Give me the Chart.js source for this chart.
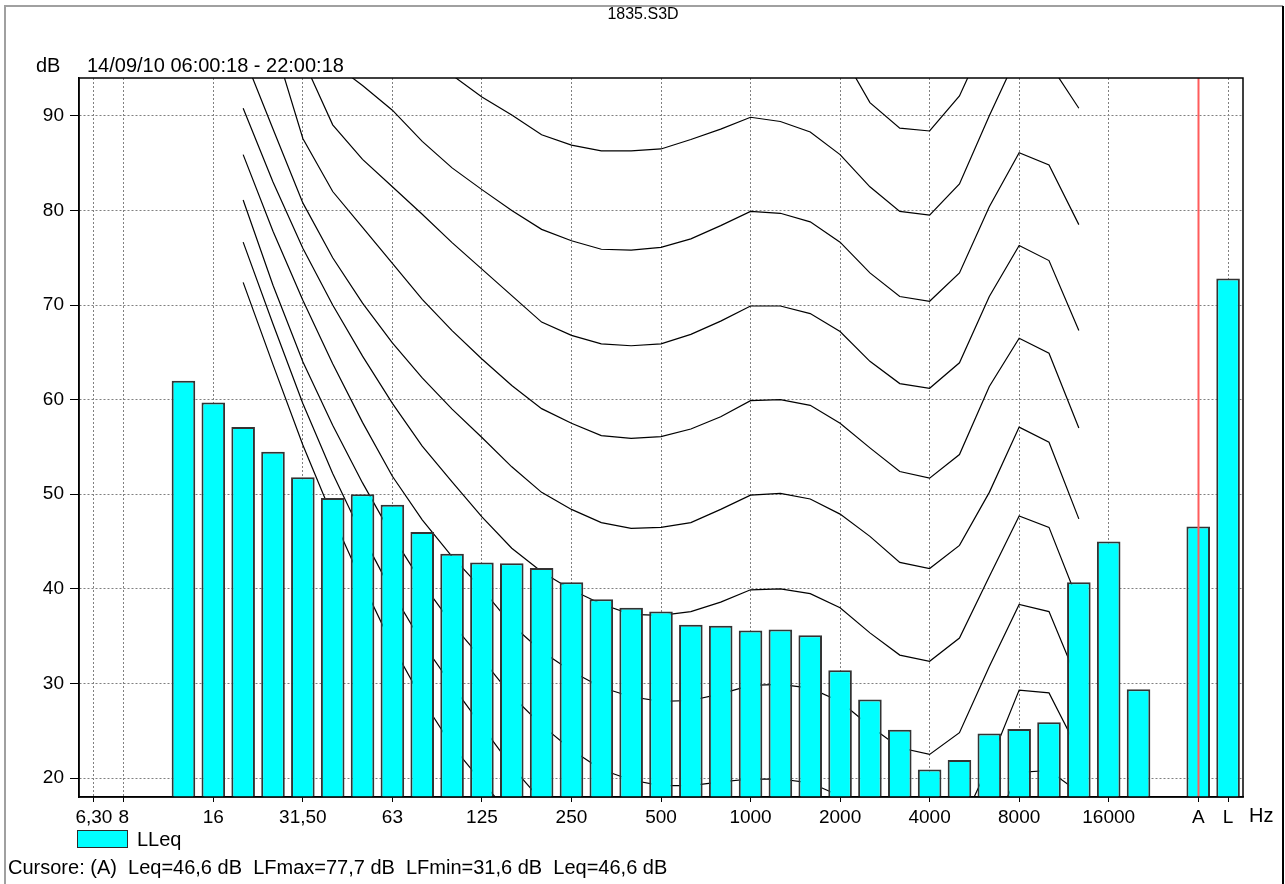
<!DOCTYPE html>
<html>
<head>
<meta charset="utf-8">
<title>1835.S3D</title>
<script src="https://cdn.jsdelivr.net/npm/chart.js@4.4.0/dist/chart.umd.min.js"></script>
<style>
  html, body { margin: 0; padding: 0; background: #fff; }
  canvas { display: block; }
</style>
</head>
<body>
<canvas id="spectrum" width="1285" height="884"></canvas>
<script>
// 1/3 octave bands, then an empty slot and the two global levels
const bands = ['6,30','8','10','12,5','16','20','25','31,50','40','50','63','80','100','125','160','200','250','315','400','500','630','800','1000','1250','1600','2000','2500','3150','4000','5000','6300','8000','10000','12500','16000','20000','','A','L'];
const shownTicks = ['6,30','8','16','31,50','63','125','250','500','1000','2000','4000','8000','16000','A','L'];
const yTicks = [20, 30, 40, 50, 60, 70, 80, 90];

// LLeq per band (dB)
const lleq = [null, null, null, 62.0, 59.7, 57.1, 54.5, 51.8, 49.6, 50.0, 48.9, 46.0, 43.7, 42.8, 42.7, 42.2, 40.7, 38.9, 38.0, 37.6, 36.2, 36.1, 35.6, 35.7, 35.1, 31.4, 28.3, 25.1, 20.9, 21.9, 24.7, 25.2, 25.9, 40.7, 45.0, 29.4, null, 46.6, 72.8];

// isophonic curves, bands 20 Hz .. 12500 Hz
const phon0   = [72.4, 63.7, 55.2, 47.6, 40.6, 34.0, 28.3, 23.4, 19.6, 16.0, null, null, null, null, null, null, null, null, null, null, null, null, null, null, null, null, null, null, null];
const phon10  = [76.65, 68.0, 59.6, 52.2, 45.6, 39.6, 34.3, 29.8, 25.5, 21.2, 17.6, null, null, null, null, null, null, null, null, null, null, null, null, null, null, 14.0, 20.6, 20.8, 18.5];
const phon20  = [81.1, 72.1, 64.0, 57.3, 51.2, 45.6, 40.6, 36.3, 32.6, 28.7, 25.6, 23.0, 20.9, 19.8, 19.2, 19.2, 19.6, 19.9, 19.9, 19.5, 18.1, 15.6, null, null, 14.6, 21.5, 29.3, 29.0, 22.8];
const phon30  = [85.9, 77.8, 70.5, 63.8, 57.6, 51.9, 47.3, 43.4, 40.0, 36.2, 33.4, 31.3, 29.6, 28.6, 28.1, 28.2, 28.9, 29.8, 29.9, 29.5, 28.1, 25.5, 23.2, 22.5, 24.8, 31.8, 38.35, 37.6, 30.0];
const phon40  = [90.8, 83.0, 76.0, 70.0, 64.6, 59.6, 55.1, 51.3, 47.6, 44.3, 41.8, 39.9, 38.4, 37.3, 37.2, 37.6, 38.6, 39.9, 40.0, 39.5, 38.0, 35.35, 33.0, 32.35, 34.8, 41.3, 47.7, 46.5, 38.5];
const phon50  = [96.5, 88.6, 80.8, 75.0, 70.2, 66.0, 62.3, 59.0, 56.0, 52.9, 50.2, 48.4, 47.0, 46.4, 46.5, 47.0, 48.4, 49.9, 50.1, 49.5, 47.9, 45.55, 42.8, 42.15, 44.6, 50.2, 57.1, 55.5, 47.4];
const phon60  = [null, 98.0, 87.6, 82.0, 78.2, 74.4, 70.6, 67.3, 64.3, 61.5, 59.05, 57.5, 56.2, 55.9, 56.1, 56.9, 58.2, 59.9, 60.0, 59.4, 57.5, 54.9, 52.4, 51.7, 54.2, 61.4, 66.5, 64.9, 57.0];
const phon70  = [null, null, 96.0, 89.05, 85.4, 82.5, 79.6, 76.6, 73.8, 71.0, 68.2, 66.8, 65.9, 65.7, 65.9, 66.9, 68.3, 69.9, 69.9, 69.1, 67.2, 64.05, 61.7, 61.2, 63.9, 70.9, 76.3, 74.7, 67.3];
const phon80  = [null, null, null, 95.6, 93.2, 90.6, 87.3, 84.5, 82.2, 80.0, 78.0, 76.8, 75.9, 75.8, 76.1, 77.0, 78.4, 79.9, 79.7, 78.8, 76.65, 73.4, 70.9, 70.4, 73.4, 80.4, 86.1, 84.8, 78.5];
const phon90  = [null, null, null, null, null, null, null, 94.3, 92.0, 90.1, 88.0, 86.9, 86.3, 86.3, 86.5, 87.5, 88.6, 89.85, 89.4, 88.3, 85.9, 82.5, 79.9, 79.5, 82.8, 90.0, 96.8, 95.6, 90.8];
const phon100 = [null, null, null, null, null, null, null, null, null, null, null, null, null, null, null, null, null, null, null, null, 96.9, 91.4, 88.7, 88.4, 92.1, 99.0, null, null, null];

const curves = [phon0, phon10, phon20, phon30, phon40, phon50, phon60, phon70, phon80, phon90, phon100];
const before = [null, null, null, null, null];   // 6,30 .. 16 Hz
const after = [null, null, null, null, null];    // 16000, 20000, gap, A, L

const FONT = 'Liberation Sans, Arial, sans-serif';

const curveSets = curves.map(c => ({
    type: 'line',
    data: before.concat(c, after),
    borderColor: '#000',
    borderWidth: 1.2,
    pointRadius: 0,
    tension: 0,
    fill: false,
    clip: 0,
    order: 2
}));

const decor = {
    id: 'decor',
    beforeDraw(chart) {
        const ctx = chart.ctx;
        ctx.save();
        ctx.fillStyle = '#fff';
        ctx.fillRect(0, 0, chart.width, chart.height);
        ctx.restore();
    },
    afterDatasetsDraw(chart) {
        const {ctx, chartArea: a, scales: {x}} = chart;
        ctx.save();
        // cursor on A
        const cx = Math.round(x.getPixelForValue(bands.indexOf('A'))) + 0.5;
        ctx.strokeStyle = '#ff5c5c';
        ctx.lineWidth = 2;
        ctx.beginPath();
        ctx.moveTo(cx, a.top);
        ctx.lineTo(cx, a.bottom);
        ctx.stroke();
        // plot frame
        ctx.strokeStyle = '#000';
        ctx.lineWidth = 1.5;
        ctx.strokeRect(a.left, a.top, a.right - a.left, a.bottom - a.top);
        ctx.restore();
    },
    afterDraw(chart) {
        const ctx = chart.ctx;
        ctx.save();
        // outer frame
        ctx.lineWidth = 2;
        ctx.strokeStyle = '#a0a0a0';
        ctx.beginPath();
        ctx.moveTo(5, 884);
        ctx.lineTo(5, 6);
        ctx.lineTo(1283, 6);
        ctx.stroke();
        ctx.strokeStyle = '#000';
        ctx.beginPath();
        ctx.moveTo(1283, 6);
        ctx.lineTo(1283, 884);
        ctx.stroke();

        ctx.fillStyle = '#000';
        ctx.textBaseline = 'middle';
        ctx.font = '16px ' + FONT;
        ctx.textAlign = 'center';
        ctx.fillText('1835.S3D', 643, 15);

        ctx.font = '20px ' + FONT;
        ctx.textAlign = 'left';
        ctx.fillText('dB', 36, 66);
        ctx.fillText('14/09/10 06:00:18 - 22:00:18', 87, 66);
        ctx.fillText('Hz', 1249, 816);

        // legend
        ctx.fillStyle = '#00ffff';
        ctx.fillRect(77, 830, 50, 17);
        ctx.strokeStyle = '#2a2a2a';
        ctx.lineWidth = 1;
        ctx.strokeRect(77.5, 830.5, 50, 17);
        ctx.fillStyle = '#000';
        ctx.fillText('LLeq', 137, 840);

        ctx.fillText('Cursore: (A)  Leq=46,6 dB  LFmax=77,7 dB  LFmin=31,6 dB  Leq=46,6 dB', 8, 868);
        ctx.restore();
    }
};

const gridTick = ctx => (ctx.tick && shownTicks.includes(bands[ctx.index])) ? '#808080' : 'rgba(0,0,0,0)';
const markTick = ctx => (ctx.tick && shownTicks.includes(bands[ctx.index])) ? '#000' : 'rgba(0,0,0,0)';

new Chart(document.getElementById('spectrum'), {
    type: 'bar',
    data: {
        labels: bands,
        datasets: [
            {
                label: 'LLeq',
                data: lleq,
                backgroundColor: '#00ffff',
                borderColor: '#333333',
                borderWidth: 2,
                barPercentage: 0.79,
                categoryPercentage: 1.0,
                order: 1
            },
            ...curveSets
        ]
    },
    options: {
        responsive: false,
        animation: false,
        devicePixelRatio: 1,
        layout: { padding: { left: 0, right: 42, top: 78, bottom: 0 } },
        plugins: {
            legend: { display: false },
            tooltip: { enabled: false },
            title: { display: false }
        },
        scales: {
            x: {
                offset: true,
                grid: {
                    offset: false,
                    color: gridTick,
                    tickColor: markTick,
                    tickLength: 5,
                    lineWidth: 1
                },
                border: { display: true, color: '#000', width: 1.5, dash: [2, 2] },
                ticks: {
                    autoSkip: false,
                    maxRotation: 0,
                    padding: 4,
                    color: '#000',
                    font: { family: FONT, size: 19 },
                    callback: function (v, i) {
                        return shownTicks.includes(bands[i]) ? bands[i] : '';
                    }
                },
                afterFit: s => { s.height = 87; }
            },
            y: {
                min: 18,
                max: 94,
                afterBuildTicks: s => { s.ticks = yTicks.map(v => ({ value: v })); },
                grid: {
                    color: '#808080',
                    tickColor: '#000',
                    tickLength: 9,
                    tickBorderDash: [],
                    lineWidth: 1
                },
                border: { display: true, color: '#000', width: 1.5, dash: [2, 2] },
                ticks: {
                    padding: 6,
                    color: '#000',
                    font: { family: FONT, size: 19 }
                },
                afterFit: s => { s.width = 79; }
            }
        }
    },
    plugins: [decor]
});
</script>
</body>
</html>
